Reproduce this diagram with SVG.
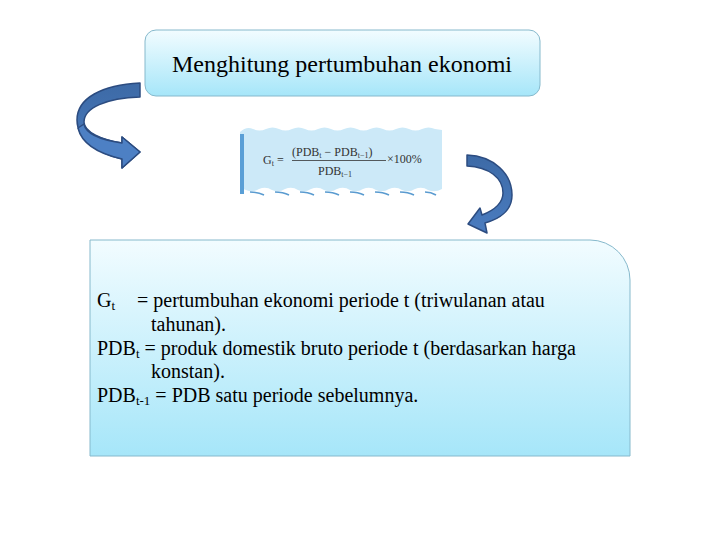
<svg xmlns="http://www.w3.org/2000/svg" width="720" height="540" viewBox="0 0 720 540">
<defs>
<linearGradient id="boxg" x1="0" y1="0" x2="0" y2="1">
<stop offset="0" stop-color="#f2fcff"/>
<stop offset="1" stop-color="#a6e6f9"/>
</linearGradient>
<linearGradient id="arrg" x1="0" y1="0" x2="0" y2="1">
<stop offset="0" stop-color="#3d6aa6"/>
<stop offset="1" stop-color="#4a7cc0"/>
</linearGradient>
<style>
.box{fill:url(#boxg);stroke:#86b9cc;stroke-width:1}
.arr{fill:url(#arrg);stroke:#2c4c80;stroke-width:1.5;stroke-linejoin:round}
.face{fill:#4d80c4;stroke:#2c4c80;stroke-width:1.5;stroke-linejoin:round}
</style>
</defs>
<rect width="720" height="540" fill="#fff"/>

<g id="title">
<rect class="box" x="145" y="30" width="395" height="66" rx="11"/>
<text x="342" y="72" font-family="'Liberation Serif', 'Times New Roman', serif" font-size="24" text-anchor="middle" fill="#000">Menghitung pertumbuhan ekonomi</text>
</g>

<g id="formula">
<path d="M240,132 Q246.5,126 253,129 Q259.5,132 266,129 Q272.5,126 279,129 Q285.5,132 292,129 Q298.5,126 305,129 Q311.5,132 318,129 Q324.5,126 331,129 Q337.5,132 344,129 Q350.5,126 357,129 Q363.5,132 370,129 Q376.5,126 383,129 Q389.5,132 396,129 Q402.5,126 409,129 Q415.5,132 422,129 Q428.5,126 435,129 L442,130 L442,189 Q435,193 428,190 Q422,186 415,189 Q409,193 402,190 Q396,186 389,189 Q383,193 376,190 Q370,186 363,189 Q357,193 350,190 Q344,186 337,189 Q331,193 324,190 Q318,186 311,189 Q305,193 298,190 Q292,186 285,189 Q279,193 272,190 Q266,186 259,189 Q253,193 246,190 L240,188 Z" fill="#cce9f8"/>
<path d="M250,192 Q258,192 264,195 M275,192 Q283,192 289,195 M300,192 Q308,192 314,195 M325,192 Q333,192 339,195 M350,192 Q358,192 364,195 M375,192 Q383,192 389,195 M400,192 Q408,192 414,195 M425,192 Q431,192 436,195" stroke="#5a9bd0" stroke-width="1.5" fill="none"/>
<rect x="240" y="134" width="4" height="60" fill="#5a9fd6"/>
<g font-family="'Liberation Serif', 'Times New Roman', serif" font-size="12" fill="#333">
<text x="263" y="164">G<tspan font-size="8" dy="2">t</tspan><tspan dy="-2"> =</tspan></text>
<text x="292" y="156">(PDB<tspan font-size="8" dy="2">t</tspan><tspan dy="-2"> − PDB</tspan><tspan font-size="8" dy="2">t−1</tspan><tspan dy="-2">)</tspan></text>
<line x1="292" y1="160.5" x2="386" y2="160.5" stroke="#333" stroke-width="0.8"/>
<text x="318" y="175">PDB<tspan font-size="8" dy="2">t−1</tspan></text>
<text x="387" y="163">×100%</text>
</g>
</g>

<g id="details">
<path class="box" d="M90,240 L590,240 A40,40 0 0 1 630,280 L630,456 L90,456 Z"/>
<g font-family="'Liberation Serif', 'Times New Roman', serif" font-size="20" fill="#000">
<text x="97" y="307">G<tspan font-size="13" dy="3">t</tspan><tspan x="137" dy="-3">= pertumbuhan ekonomi periode t (triwulanan atau</tspan></text>
<text x="151" y="331">tahunan).</text>
<text x="97" y="355">PDB<tspan font-size="13" dy="3">t</tspan><tspan dy="-3"> = produk domestik bruto periode t (berdasarkan harga</tspan></text>
<text x="151" y="378">konstan).</text>
<text x="97" y="402">PDB<tspan font-size="13" dy="3">t-1</tspan><tspan dy="-3"> = PDB satu periode sebelumnya.</tspan></text>
</g>
</g>

<g id="connectors">
<path class="arr" d="M140,83 C102,85 77,98 77,120 C77,140 100,154 122,159 L122,168 L140,152 L122,137 L122,143 C102,140 84,132 84,122 C84,108 106,98 140,97 Z"/>
<path class="face" d="M78,128 C82,145 100,154 122,159 L122,168 L140,152 L122,137 L122,143 C102,140 86,135 84,124 Z"/>
<path class="arr" d="M467,155 C494,156 512,174 512,195 C512,210 502,218 485,223 L487,233 L468,224 L480,208 L482,215 C495,210 503,202 503,193 C503,178 489,167 467,166 Z"/>
</g>
</svg>
